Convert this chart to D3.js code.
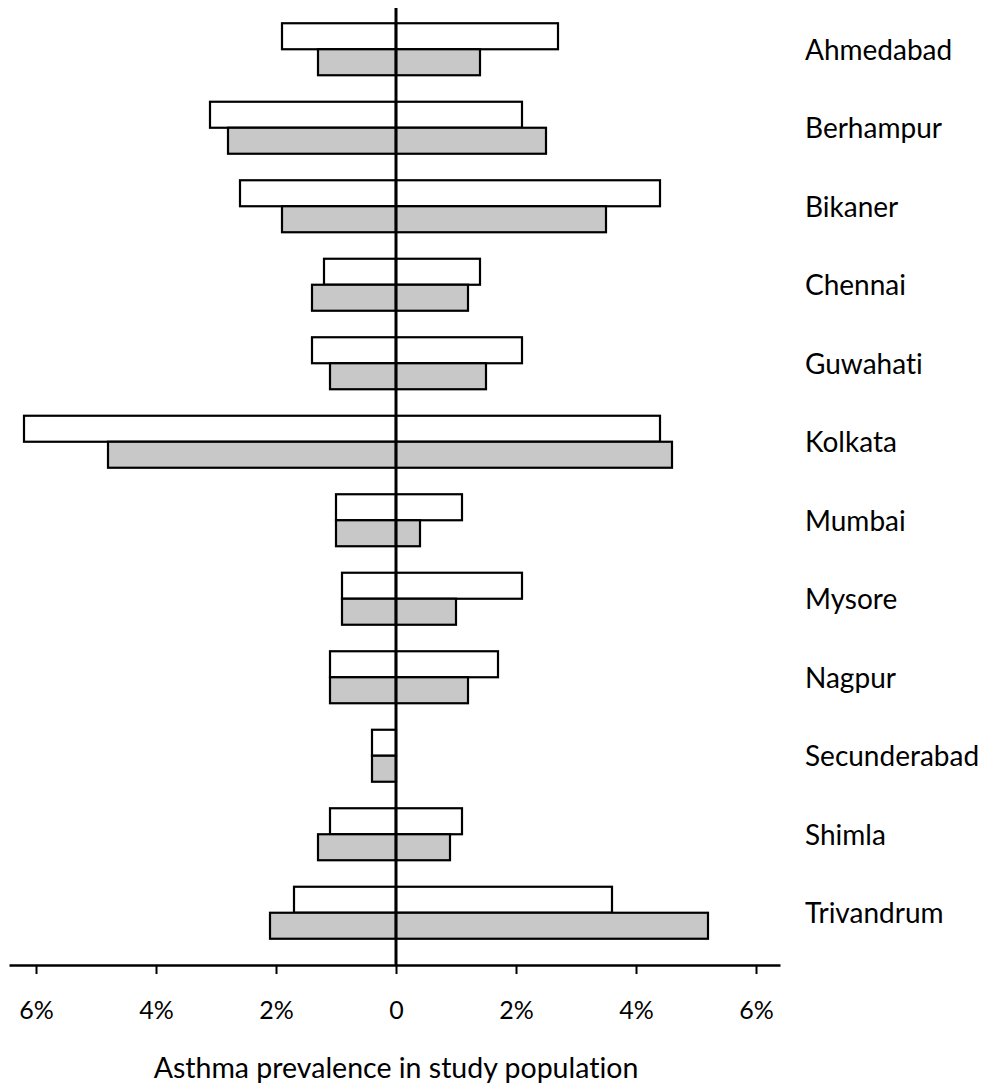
<!DOCTYPE html>
<html>
<head>
<meta charset="utf-8">
<script src="https://cdn.jsdelivr.net/npm/d3@7"></script>
<style>
  html, body { margin: 0; padding: 0; background: #fff; }
  svg { display: block; font-family: Lato, "Open Sans", sans-serif; font-variant-ligatures: none; }
</style>
</head>
<body>
<svg id="chart" width="983" height="1084"></svg>
<script>
// Study sites, top to bottom
const cities = ["Ahmedabad", "Berhampur", "Bikaner", "Chennai", "Guwahati", "Kolkata",
                "Mumbai", "Mysore", "Nagpur", "Secunderabad", "Shimla", "Trivandrum"];

// Prevalence (%) drawn to the left of zero
const leftOpen   = [1.9, 3.1, 2.6, 1.2, 1.4, 6.2, 1.0, 0.9, 1.1, 0.4, 1.1, 1.7];
const leftShaded = [1.3, 2.8, 1.9, 1.4, 1.1, 4.8, 1.0, 0.9, 1.1, 0.4, 1.3, 2.1];

// Prevalence (%) drawn to the right of zero
const rightOpen   = [2.7, 2.1, 4.4, 1.4, 2.1, 4.4, 1.1, 2.1, 1.7, 0.0, 1.1, 3.6];
const rightShaded = [1.4, 2.5, 3.5, 1.2, 1.5, 4.6, 0.4, 1.0, 1.2, 0.0, 0.9, 5.2];

// Axis ticks (signed positions) and their labels
const tickValues = [-6, -4, -2, 0, 2, 4, 6];
const tickLabels = ["6%", "4%", "2%", "0", "2%", "4%", "6%"];
const axisExtent = [-6.45, 6.4];

const axisTitle = "Asthma prevalence in study population";

const svg = d3.select("#chart");

const x = d3.scaleLinear().domain(axisExtent).range([9, 780]);
const axisY = 965;

const y = d3.scaleBand()
  .domain(cities)
  .range([10, 952])
  .paddingInner(0.3376)
  .paddingOuter(0.1688);

const sub = d3.scaleBand().domain(["open", "shaded"]).range([0, y.bandwidth()]);

const fills = { open: "#ffffff", shaded: "#c8c8c8" };

// Build one record per bar
const bars = [];
cities.forEach((c, i) => {
  bars.push({ city: c, kind: "open",   v: -leftOpen[i] });
  bars.push({ city: c, kind: "open",   v:  rightOpen[i] });
  bars.push({ city: c, kind: "shaded", v: -leftShaded[i] });
  bars.push({ city: c, kind: "shaded", v:  rightShaded[i] });
});

svg.append("g")
  .selectAll("rect")
  .data(bars.filter(d => d.v !== 0))
  .join("rect")
  .attr("x", d => Math.min(x(0), x(d.v)))
  .attr("y", d => y(d.city) + sub(d.kind))
  .attr("width", d => Math.abs(x(d.v) - x(0)))
  .attr("height", sub.bandwidth())
  .attr("fill", d => fills[d.kind])
  .attr("stroke", "#000")
  .attr("stroke-width", 2.2);

// Zero line
svg.append("line")
  .attr("x1", x(0)).attr("x2", x(0))
  .attr("y1", 8).attr("y2", axisY)
  .attr("stroke", "#000")
  .attr("stroke-width", 3);

// Horizontal axis
const axis = d3.axisBottom(x)
  .tickValues(tickValues)
  .tickSize(9)
  .tickSizeOuter(0)
  .tickFormat((d, i) => tickLabels[i]);

const gAxis = svg.append("g")
  .attr("transform", `translate(0,${axisY})`)
  .call(axis);

gAxis.select(".domain")
  .attr("stroke", "#000")
  .attr("stroke-width", 2.5);
gAxis.selectAll(".tick line")
  .attr("stroke", "#000")
  .attr("stroke-width", 2);
gAxis.selectAll(".tick text")
  .attr("y", 54)
  .attr("dy", 0)
  .attr("fill", "#000")
  .style("font-family", "Lato, 'Open Sans', sans-serif")
  .style("font-variant-ligatures", "none")
  .style("font-size", "25px");

// Axis title
svg.append("text")
  .attr("x", x(0))
  .attr("y", 1078)
  .attr("text-anchor", "middle")
  .style("font-size", "28.5px")
  .attr("fill", "#000")
  .text(axisTitle);

// City labels
svg.append("g")
  .selectAll("text")
  .data(cities)
  .join("text")
  .attr("x", 805)
  .attr("y", d => y(d) + y.bandwidth() / 2 + 10.5)
  .style("font-size", "28px")
  .attr("fill", "#000")
  .text(d => d);
</script>
</body>
</html>
